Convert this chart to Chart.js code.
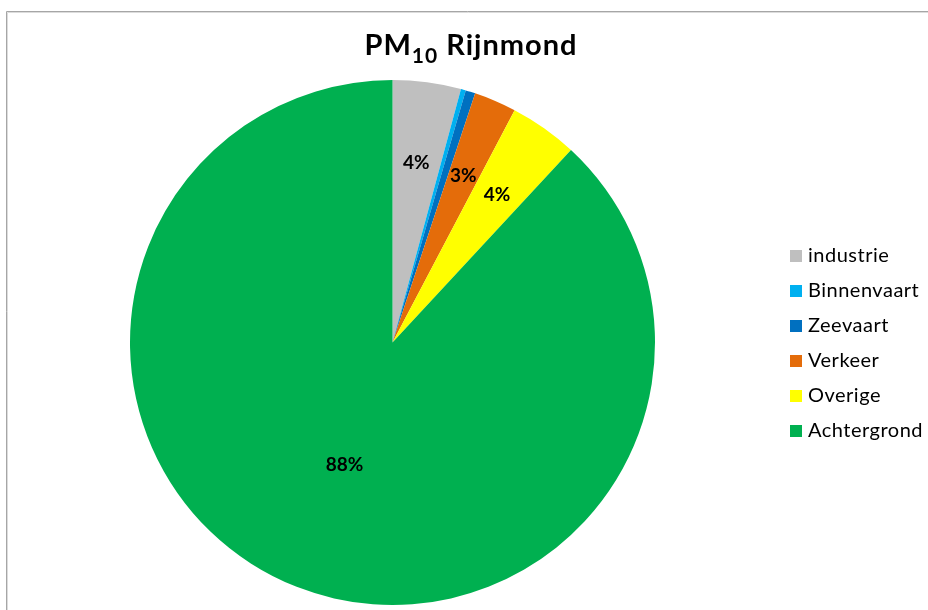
<!DOCTYPE html>
<html>
<head>
<meta charset="utf-8">
<title>PM10 Rijnmond</title>
<script src="https://cdn.jsdelivr.net/npm/chart.js@4.4.1/dist/chart.umd.min.js"></script>
<style>
  html, body { margin: 0; padding: 0; background: #ffffff; }
  #wrap { width: 928px; height: 610px; position: relative; }
</style>
</head>
<body>
<div id="wrap"><canvas id="chart" width="928" height="610"></canvas></div>
<script>
// Source contributions to PM10 concentration in Rijnmond (percent)
const categories = ['industrie', 'Binnenvaart', 'Zeevaart', 'Verkeer', 'Overige', 'Achtergrond'];
const shares = [4.2, 0.3, 0.6, 2.6, 4.2, 88.1];
const sliceColors = ['#BFBFBF', '#00B0F0', '#0070C0', '#E46C0A', '#FFFF00', '#00B050'];
const titleMain = 'PM';
const titleSub = '10';
const titleRest = ' Rijnmond';

const FONT = 'Lato, "Open Sans", sans-serif';

// White background and the thin chart-area frame
const framePlugin = {
  id: 'frame',
  beforeDraw(chart) {
    const ctx = chart.ctx;
    ctx.save();
    ctx.fillStyle = '#ffffff';
    ctx.fillRect(0, 0, chart.width, chart.height);
    ctx.strokeStyle = '#a6a6a6';
    ctx.lineWidth = 1;
    ctx.beginPath();
    ctx.moveTo(6.5, chart.height + 2);
    ctx.lineTo(6.5, 11.5);
    ctx.lineTo(chart.width + 2, 11.5);
    ctx.stroke();
    ctx.strokeStyle = '#dcdcdc';
    ctx.beginPath();
    ctx.moveTo(7.5, chart.height + 2);
    ctx.lineTo(7.5, 12.5);
    ctx.lineTo(chart.width + 2, 12.5);
    ctx.stroke();
    ctx.restore();
  }
};

// Title with a subscripted "10"
const titlePlugin = {
  id: 'subTitle',
  afterDraw(chart) {
    const ctx = chart.ctx;
    ctx.save();
    ctx.letterSpacing = '1px';
    const big = 'bold 29px ' + FONT;
    const small = 'bold 21px ' + FONT;
    ctx.font = big;
    const w1 = ctx.measureText(titleMain).width;
    const w3 = ctx.measureText(titleRest).width;
    ctx.font = small;
    const w2 = ctx.measureText(titleSub).width;
    const total = w1 + w2 + w3;
    let x = 471 - total / 2;
    const baseline = 55;
    ctx.fillStyle = '#000000';
    ctx.textBaseline = 'alphabetic';
    ctx.textAlign = 'left';
    ctx.font = big;
    ctx.fillText(titleMain, x, baseline);
    x += w1;
    ctx.font = small;
    ctx.fillText(titleSub, x, baseline + 8);
    x += w2;
    ctx.font = big;
    ctx.fillText(titleRest, x, baseline);
    ctx.restore();
  }
};

// Percentage labels inside the slices (slices under 1% stay unlabelled)
const pctLabelPlugin = {
  id: 'pctLabels',
  afterDatasetsDraw(chart) {
    const ctx = chart.ctx;
    const ds = chart.data.datasets[0];
    const total = ds.data.reduce((a, b) => a + b, 0);
    const meta = chart.getDatasetMeta(0);
    ctx.save();
    ctx.font = 'bold 19px ' + FONT;
    ctx.fillStyle = '#000000';
    ctx.textAlign = 'center';
    ctx.textBaseline = 'middle';
    meta.data.forEach((arc, i) => {
      const v = ds.data[i];
      if (v < 1) return;
      const pct = Math.round(v * 100 / total);
      const p = arc.getProps(['x', 'y', 'startAngle', 'endAngle', 'outerRadius'], true);
      const mid = (p.startAngle + p.endAngle) / 2;
      const f = pct > 50 ? 0.5 : 0.69;
      const r = p.outerRadius * f;
      ctx.fillText(pct + '%', p.x + Math.cos(mid) * r, p.y + Math.sin(mid) * r);
    });
    ctx.restore();
  }
};

// Legend on the right, one row per source
const legendPlugin = {
  id: 'sideLegend',
  afterDraw(chart) {
    const ctx = chart.ctx;
    const labels = chart.data.labels;
    const colors = chart.data.datasets[0].backgroundColor;
    ctx.save();
    ctx.font = '20px ' + FONT;
    ctx.letterSpacing = '0.5px';
    ctx.textAlign = 'left';
    ctx.textBaseline = 'middle';
    const x0 = 790, y0 = 255.5, step = 35.1, box = 12;
    labels.forEach((lab, i) => {
      const yc = y0 + i * step;
      ctx.fillStyle = colors[i];
      ctx.fillRect(x0, Math.round(yc - box / 2), box, box);
      ctx.fillStyle = '#000000';
      ctx.fillText(lab, x0 + 18, yc);
    });
    ctx.restore();
  }
};

new Chart(document.getElementById('chart'), {
  type: 'pie',
  data: {
    labels: categories,
    datasets: [{
      data: shares,
      backgroundColor: sliceColors,
      borderWidth: 0
    }]
  },
  options: {
    responsive: false,
    animation: false,
    devicePixelRatio: 1,
    layout: { padding: { left: 130, right: 273, top: 80, bottom: 5 } },
    plugins: {
      legend: { display: false },
      title: { display: false },
      tooltip: { enabled: false }
    }
  },
  plugins: [framePlugin, titlePlugin, pctLabelPlugin, legendPlugin]
});
</script>
</body>
</html>
